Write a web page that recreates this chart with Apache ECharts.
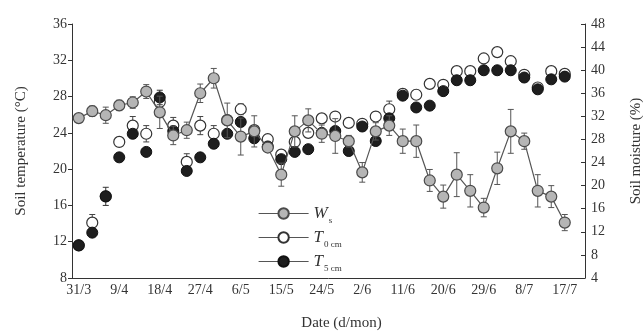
<!DOCTYPE html>
<html>
<head>
<meta charset="utf-8">
<script src="https://cdn.jsdelivr.net/npm/echarts@6/dist/echarts.min.js"></script>
<style>html,body{margin:0;padding:0;background:#fff}#c{width:643px;height:333px}</style>
</head>
<body>
<div id="c"></div>
<script>
// Dates every 3 days (d/mon)
const categories = ['31/3','3/4','6/4','9/4','12/4','15/4','18/4','21/4','24/4','27/4','30/4','3/5','6/5','9/5','12/5','15/5','18/5','21/5','24/5','27/5','30/5','2/6','5/6','8/6','11/6','14/6','17/6','20/6','23/6','26/6','29/6','2/7','5/7','8/7','11/7','14/7','17/7','20/7'];

// Soil moisture W_s (%), right axis
const wsValues = [31.7,32.9,32.2,33.9,34.4,36.3,32.7,28.7,29.6,36.0,38.6,31.3,28.5,29.4,26.6,21.9,29.4,31.3,29.0,28.6,27.7,22.3,29.4,30.4,27.7,27.7,20.9,18.1,21.9,19.1,16.2,23.0,29.4,27.7,19.1,18.1,13.6];
const wsErr    = [0.6,0.9,1.4,0.9,1.0,1.2,2.8,1.6,1.4,1.6,1.7,3.0,3.2,2.7,0.7,2.0,2.7,2.0,1.5,3.0,1.0,1.7,1.5,1.7,2.1,2.8,1.9,2.0,3.8,2.8,1.6,2.8,3.8,1.4,2.8,1.9,1.4];

// Soil temperature at 0 cm (°C), left axis
const t0Values = [11.6,14.1,17.0,23.0,24.8,23.9,27.4,24.8,20.8,24.8,23.9,25.4,26.6,24.3,23.3,21.6,23.0,24.0,25.6,25.8,25.1,25.0,25.8,26.6,28.3,28.2,29.4,29.3,30.8,30.8,32.2,32.9,31.9,30.4,29.0,30.8,30.5];
const t0Err    = [0.3,0.9,0.3,0.5,1.0,0.9,0.8,0.9,0.9,1.0,0.9,0.5,0.6,0.5,0.5,0.4,0.5,0.5,0.5,0.4,0.4,0.4,0.5,0.9,0.5,0.5,0.3,0.3,0.3,0.3,0.3,0.3,0.3,0.3,0.3,0.3,0.3];

// Soil temperature at 5 cm (°C), left axis
const t5Values = [11.6,13.0,17.0,21.3,23.9,21.9,27.9,24.2,19.8,21.3,22.8,23.9,25.2,23.4,22.5,21.1,21.9,22.2,24.0,24.2,22.0,24.7,23.1,25.6,28.1,26.8,27.0,28.6,29.8,29.8,30.9,30.9,30.9,30.1,28.8,29.9,30.2];
const t5Err    = [0.3,0.4,1.0,0.3,0.3,0.3,0.8,0.3,0.3,0.3,0.3,0.4,0.5,0.4,0.4,0.3,0.3,0.3,0.3,0.3,0.3,0.4,0.3,0.3,0.3,0.3,0.3,0.3,0.3,0.3,0.3,0.3,0.3,0.3,0.3,0.3,0.3];

const leftTicks = {min: 8, max: 36, interval: 4};
const rightTicks = {min: 4, max: 48, interval: 4};

const SERIF = 'Liberation Serif';
const TXT = '#333';

function errData(vals, errs){ return vals.map((v,i)=>[i, v, errs[i]]); }
function errRender(color){
  return function(params, api){
    const x = api.value(0), y = api.value(1), e = api.value(2);
    const t = api.coord([x, y + e]);
    const b = api.coord([x, y - e]);
    const cw = 3;
    const st = {stroke: color, lineWidth: 1};
    return {type:'group', children:[
      {type:'line', shape:{x1:t[0], y1:t[1], x2:b[0], y2:b[1]}, style: st},
      {type:'line', shape:{x1:t[0]-cw, y1:t[1], x2:t[0]+cw, y2:t[1]}, style: st},
      {type:'line', shape:{x1:b[0]-cw, y1:b[1], x2:b[0]+cw, y2:b[1]}, style: st}
    ]};
  };
}

const chart = echarts.init(document.getElementById('c'), null, {renderer:'canvas'});
const legendText = {
  'Ws': '{it|W}{sub|s}',
  'T0': '{it|T}{sub|0 cm}',
  'T5': '{it|T}{sub|5 cm}'
};
chart.setOption({
  animation: false,
  backgroundColor: '#fff',
  grid: {left: 72, right: 58, top: 24, bottom: 55, containLabel: false, outerBoundsMode: 'none'},
  legend: {
    orient: 'vertical', left: 253, top: 197,
    itemWidth: 50, itemHeight: 13, itemGap: 1,
    data: ['Ws','T0','T5'],
    lineStyle: {width: 1.2, color: '#555', opacity: 1},
    formatter: n => legendText[n],
    textStyle: {
      rich: {
        it: {fontFamily: SERIF, fontStyle: 'italic', fontSize: 17, color: TXT, lineHeight: 18},
        sub: {fontFamily: SERIF, fontSize: 9, color: TXT, lineHeight: 18, padding: [14,0,0,1]}
      }
    }
  },
  xAxis: {
    type: 'category', data: categories, boundaryGap: true,
    axisLine: {lineStyle: {color: '#333', width: 1}},
    axisTick: {alignWithLabel: true, interval: 0, length: 5, lineStyle: {color: '#333'}},
    axisLabel: {interval: 2, fontFamily: SERIF, fontSize: 14, color: TXT, margin: 5},
    name: 'Date (d/mon)', nameLocation: 'middle', nameGap: 38,
    nameTextStyle: {fontFamily: SERIF, fontSize: 15, color: TXT, padding: [0,0,0,26]}
  },
  yAxis: [
    {
      type: 'value', position: 'left', min: leftTicks.min, max: leftTicks.max, interval: leftTicks.interval,
      axisLine: {show: true, lineStyle: {color: '#333'}},
      axisTick: {show: true, length: 4, lineStyle: {color: '#333'}},
      splitLine: {show: false},
      axisLabel: {fontFamily: SERIF, fontSize: 14, color: TXT, margin: 5},
      name: 'Soil temperature (°C)', nameLocation: 'middle', nameGap: 43, nameRotate: 90,
      nameTextStyle: {fontFamily: SERIF, fontSize: 15, color: TXT}
    },
    {
      type: 'value', position: 'right', min: rightTicks.min, max: rightTicks.max, interval: rightTicks.interval,
      axisLine: {show: true, lineStyle: {color: '#333'}},
      axisTick: {show: true, inside: true, length: 4, lineStyle: {color: '#333'}},
      splitLine: {show: false},
      axisLabel: {fontFamily: SERIF, fontSize: 14, color: TXT, margin: 6},
      name: 'Soil moisture (%)', nameLocation: 'middle', nameGap: 44, nameRotate: 90,
      nameTextStyle: {fontFamily: SERIF, fontSize: 15, color: TXT}
    }
  ],
  series: [
    {type:'custom', name:'T0err', yAxisIndex:0, renderItem: errRender('#444'), data: errData(t0Values, t0Err), encode:{x:0,y:1}, z:2, silent:true},
    {type:'line', name:'T0', yAxisIndex:0, data: t0Values, symbol:'circle', symbolSize: 11, showAllSymbol: true,
     lineStyle:{width:0, opacity:0}, itemStyle:{color:'#fff', borderColor:'#333', borderWidth:1.2}, z:3},
    {type:'custom', name:'T5err', yAxisIndex:0, renderItem: errRender('#333'), data: errData(t5Values, t5Err), encode:{x:0,y:1}, z:4, silent:true},
    {type:'line', name:'T5', yAxisIndex:0, data: t5Values, symbol:'circle', symbolSize: 11, showAllSymbol: true,
     lineStyle:{width:0, opacity:0}, itemStyle:{color:'#1e1e1e', borderColor:'#111', borderWidth:1}, z:5},
    {type:'custom', name:'Wserr', yAxisIndex:1, renderItem: errRender('#555'), data: errData(wsValues, wsErr), encode:{x:0,y:1}, z:6, silent:true},
    {type:'line', name:'Ws', yAxisIndex:1, data: wsValues, symbol:'circle', symbolSize: 11, showAllSymbol: true,
     lineStyle:{width:1.2, color:'#555'}, itemStyle:{color:'#b5b5b5', borderColor:'#4a4a4a', borderWidth:1.2}, z:7}
  ]
});
</script>
</body>
</html>
